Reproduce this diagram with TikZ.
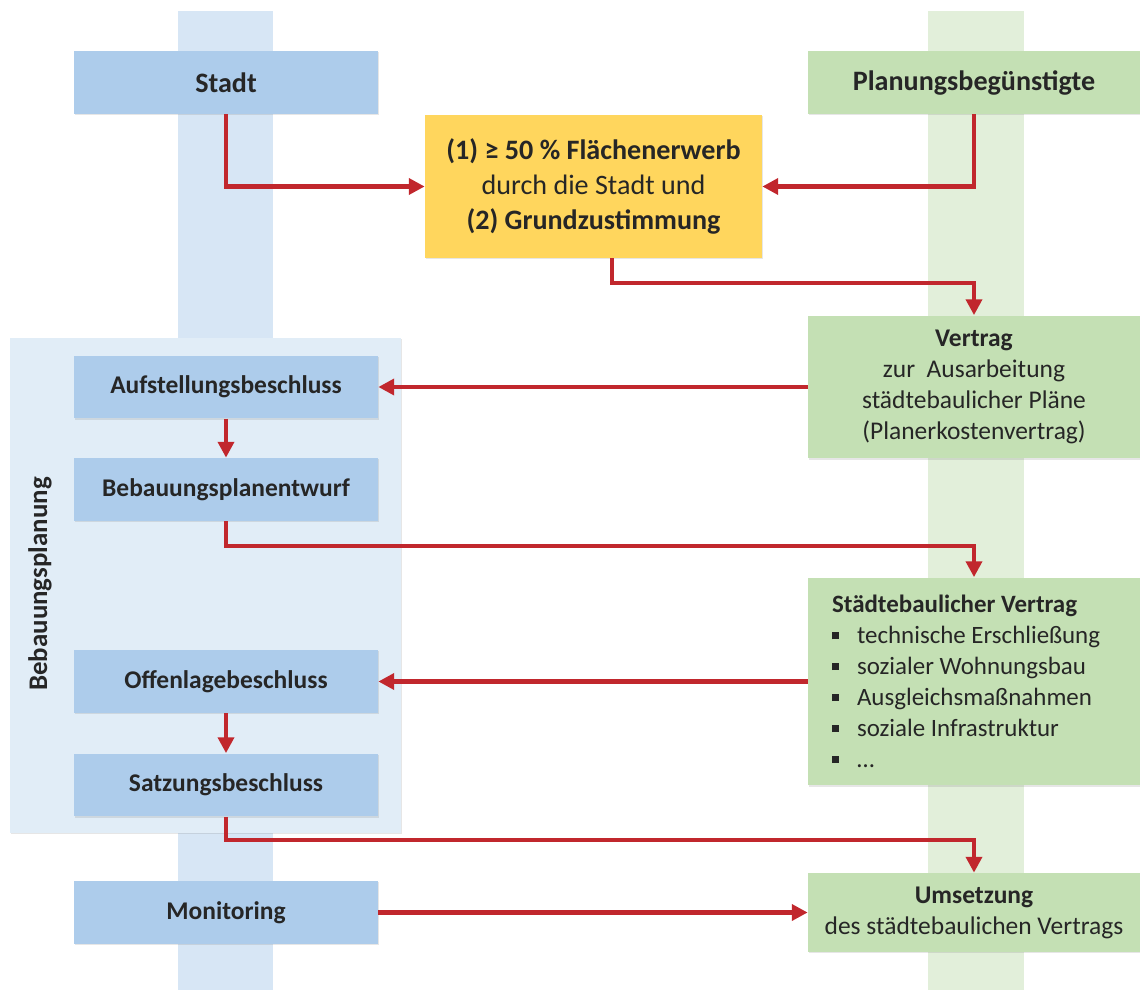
\documentclass[tikz,border=0pt]{standalone}
\usepackage{fontspec}
\setmainfont{Carlito}
\usetikzlibrary{arrows.meta}
\usetikzlibrary{shadows}
\definecolor{stadt-blau}{HTML}{ADCCEB}
\definecolor{spur-blau}{HTML}{D7E6F5}
\definecolor{feld-blau}{HTML}{E1EDF7}
\definecolor{pb-gruen}{HTML}{C4E0B4}
\definecolor{spur-gruen}{HTML}{E2EFDA}
\definecolor{gelb}{HTML}{FFD65D}
\definecolor{pfeilrot}{HTML}{C1272D}
\definecolor{textgrau}{HTML}{262626}
\newcommand{\schrift}{\fontsize{14.5}{17.6}\selectfont}
\newcommand{\grossschrift}{\fontsize{16}{19.5}\selectfont}
\newcommand{\punkt}{\makebox[0.5cm][l]{\rule[0.18em]{0.28em}{0.28em}}}
\tikzstyle{kasten}=[rectangle, inner sep=2pt, align=center, text=textgrau, font=\schrift, drop shadow={opacity=0.2, shadow xshift=0.8pt, shadow yshift=-0.8pt}]
\tikzstyle{blaukasten}=[kasten, fill=stadt-blau, minimum width=6.08cm, minimum height=1.26cm, font=\schrift\bfseries]
\tikzstyle{gruenkasten}=[kasten, fill=pb-gruen, minimum width=6.64cm]
\tikzstyle{pfeil}=[pfeilrot, line width=2.3pt, -{Triangle[length=9pt,width=9pt]}]

\begin{document}
\begin{tikzpicture}[x=0.02cm, y=-0.02cm]
\useasboundingbox (0,0) rectangle (1140,990);
% lanes
\fill[spur-blau] (178,11) rectangle (273,990);
\fill[spur-gruen] (928,11) rectangle (1024,990);
% bebauungsplanung panel
\node[kasten, fill=feld-blau, minimum width=7.82cm, minimum height=9.9cm] (feld) at (205.5,585.5) {};
\node[rotate=90, text=textgrau, font=\fontsize{15.3}{18}\selectfont\bfseries] (feldtitel) at (40,584) {Bebauungsplanung};
% top row
\node[blaukasten, font=\grossschrift\bfseries] (stadt) at (226,82.5) {Stadt};
\node[gruenkasten, minimum height=1.26cm, font=\grossschrift\bfseries] (pb) at (974,82.5) {Planungsbegünstigte};
\node[kasten, fill=gelb, minimum width=6.74cm, minimum height=2.86cm, font=\fontsize{16}{20}\selectfont] (gelb) at (593.5,186.5)
	{\textbf{(1) ≥ 50 \% Flächenerwerb}\\ durch die Stadt und\\ \textbf{(2) Grundzustimmung}};
% stadt side
\node[blaukasten] (aufst) at (226,387) {Aufstellungsbeschluss};
\node[blaukasten] (entwurf) at (226,489.5) {Bebauungsplanentwurf};
\node[blaukasten] (offen) at (226,681.5) {Offenlagebeschluss};
\node[blaukasten] (satzung) at (226,785) {Satzungsbeschluss};
\node[blaukasten] (monitoring) at (226,912.5) {Monitoring};
% planungsbeguenstigte side
\node[gruenkasten, minimum height=2.86cm] (vertrag) at (974,387)
	{\textbf{Vertrag}\\ zur~ Ausarbeitung\\ städtebaulicher Pläne\\ (Planerkostenvertrag)};
\node[gruenkasten, minimum height=4.16cm, align=flush left, text width=5.68cm, inner xsep=0.48cm, font=\fontsize{14.2}{17.6}\selectfont] (stv) at (974,681.5)
	{\textbf{Städtebaulicher Vertrag}\\ \punkt technische Erschließung\\ \punkt sozialer Wohnungsbau\\
	 \punkt Ausgleichsmaßnahmen\\ \punkt soziale Infrastruktur\\ \punkt …};
\node[gruenkasten, minimum height=1.58cm] (umsetzung) at (974,912.5)
	{\textbf{Umsetzung}\\ des städtebaulichen Vertrags};
% arrows
\draw[pfeil] (stadt.south) |- (gelb.west);
\draw[pfeil] (pb.south) |- (gelb.east);
\draw[pfeil] ([xshift=0.37cm]gelb.south) -- ++(0,25) -| (vertrag.north);
\draw[pfeil] (vertrag.west) -- (aufst.east);
\draw[pfeil] (aufst.south) -- (entwurf.north);
\draw[pfeil] (entwurf.south) -- ++(0,25) -| (stv.north);
\draw[pfeil] (stv.west) -- (offen.east);
\draw[pfeil] (offen.south) -- (satzung.north);
\draw[pfeil] (satzung.south) -- ++(0,23) -| (umsetzung.north);
\draw[pfeil] (monitoring.east) -- (umsetzung.west);
\end{tikzpicture}
\end{document}
